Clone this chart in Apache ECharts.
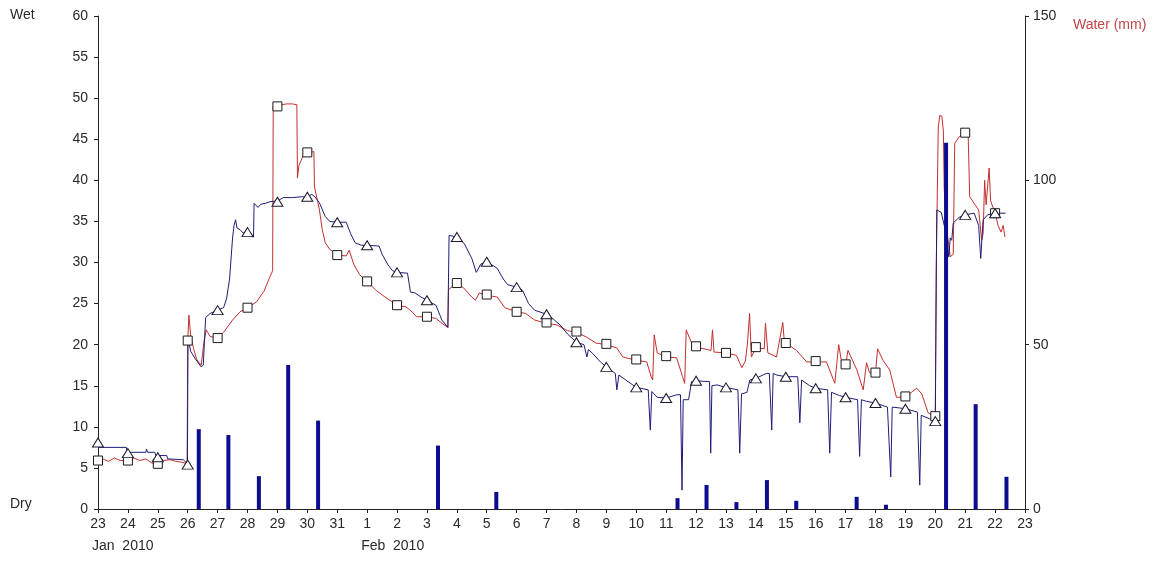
<!DOCTYPE html>
<html>
<head>
<meta charset="utf-8">
<script src="https://cdn.jsdelivr.net/npm/echarts@6/dist/echarts.min.js"></script>
<style>html,body{margin:0;padding:0;background:#fff}#c{width:1157px;height:561px}</style>
</head>
<body>
<div id="c"></div>
<script>
// x values: days since 23 Jan 2010 00:00
const dayLabels = ['23','24','25','26','27','28','29','30','31',
  '1','2','3','4','5','6','7','8','9','10','11','12','13','14','15','16','17','18','19','20','21','22','23'];
const monthLabels = [[0, 'Jan  2010'], [9, 'Feb  2010']];

// red line (squares)
const redLine = [
[0.00,5.9],[0.15,6.1],[0.35,5.8],[0.55,6.2],[0.75,5.9],[1.00,5.9],[1.20,6.2],[1.40,5.9],[1.60,6.1],[1.80,5.6],[2.00,5.5],[2.20,5.9],[2.40,6.0],[2.60,5.8],[2.80,5.7],[2.98,5.5],
[3.00,20.4],[3.04,23.6],[3.10,21.0],[3.20,19.5],[3.30,18.2],[3.45,17.5],[3.55,20.5],[3.62,21.8],[3.75,21.0],[4.00,20.8],[4.20,21.5],[4.50,23.0],[4.75,24.0],[5.00,24.5],[5.30,25.2],[5.55,26.5],[5.72,28.0],[5.84,29.0],
[5.86,49.0],[6.00,49.1],[6.30,49.3],[6.50,49.3],[6.65,49.2],[6.67,40.3],[6.72,41.8],[6.85,42.9],[7.00,43.3],[7.22,43.5],[7.24,39.2],[7.40,36.5],[7.50,34.0],[7.60,32.4],[7.75,31.6],[7.90,31.2],[8.00,30.9],[8.30,30.8],[8.40,31.5],[8.55,29.8],[8.75,28.5],[9.00,27.7],[9.30,26.6],[9.60,25.8],[9.80,25.3],[10.00,24.8],[10.30,24.6],[10.50,24.0],[10.65,23.4],[11.00,23.4],[11.30,23.2],[11.50,22.6],[11.70,22.1],
[11.72,26.7],[12.00,27.5],[12.20,27.0],[12.50,25.8],[12.62,25.4],[12.75,26.3],[13.00,26.0],[13.35,25.8],[13.60,24.5],[14.00,24.0],[14.30,23.8],[14.60,23.0],[15.00,22.6],[15.35,22.4],[15.70,21.7],[16.00,21.5],[16.35,20.9],[16.65,20.2],[17.00,20.0],[17.35,19.6],[17.55,18.5],[18.00,18.1],[18.35,17.9],[18.50,16.1],[18.55,15.7],[18.60,21.2],[18.70,19.0],[19.00,18.5],[19.35,18.4],[19.55,16.1],[19.62,15.3],[19.67,21.8],[19.85,20.2],[20.00,19.7],[20.50,19.3],[20.55,21.8],[20.60,19.1],[21.00,19.0],[21.35,18.7],[21.53,17.2],[21.65,18.0],[21.72,20.2],[21.79,23.8],[21.85,18.5],[22.00,19.6],[22.28,19.5],[22.32,22.6],[22.40,19.0],[22.69,18.5],[22.90,22.7],[22.95,20.5],[23.00,20.2],[23.36,19.3],[23.70,17.9],[24.00,17.9],[24.36,17.9],[24.64,15.3],[24.77,20.0],[24.88,17.6],[25.00,17.5],[25.08,19.3],[25.38,16.9],[25.59,14.5],[25.70,17.8],[25.80,16.6],[26.00,16.5],[26.07,19.5],[26.25,18.1],[26.48,16.9],[26.70,13.6],[27.00,13.6],[27.20,14.2],[27.38,14.7],[27.55,14.0],[27.76,11.7],[28.00,11.2],
[28.03,29.0],[28.10,46.5],[28.15,47.9],[28.22,47.8],[28.27,46.0],[28.30,38.8],[28.40,33.5],[28.50,30.7],[28.60,31.0],[28.65,44.5],[28.80,45.3],[29.00,45.9],[29.10,45.5],[29.15,38.0],[29.45,36.4],[29.55,32.7],[29.60,33.5],[29.65,40.0],[29.70,37.0],[29.80,41.5],[29.85,37.5],[30.00,36.0],[30.10,34.5],[30.20,33.7],[30.27,34.5],[30.33,33.1]
];

// blue line (triangles)
const blueLine = [
[0.00,8.3],[0.02,7.5],[0.95,7.5],[0.97,6.9],[1.60,6.9],[1.62,7.3],[1.66,6.9],[1.90,6.9],[1.93,6.5],[2.30,6.5],[2.33,6.1],[2.85,6.0],[2.99,5.5],
[3.01,20.8],[3.10,19.2],[3.25,18.3],[3.45,17.3],[3.52,17.5],[3.60,23.3],[3.75,23.8],[4.00,24.2],[4.20,24.5],[4.30,25.6],[4.40,28.0],[4.50,33.0],[4.55,34.5],[4.60,35.2],[4.65,34.2],[4.75,34.0],[4.85,33.6],[5.00,33.6],[5.10,33.2],[5.20,33.1],[5.22,37.2],[5.35,36.7],[5.45,37.1],[5.60,37.2],[5.75,37.4],[6.00,37.5],[6.20,37.9],[6.50,37.9],[6.80,38.0],[7.00,38.0],[7.15,38.3],[7.25,38.0],[7.40,37.3],[7.60,35.6],[7.75,35.0],[8.00,34.9],[8.30,34.9],[8.45,33.5],[8.60,32.4],[8.80,32.1],[9.00,32.1],[9.40,32.0],[9.50,31.0],[9.70,29.7],[9.85,29.0],[10.00,28.8],[10.35,28.7],[10.45,26.4],[10.60,26.3],[10.80,25.8],[11.00,25.4],[11.30,24.8],[11.50,23.0],[11.70,22.1],
[11.74,33.3],[12.00,33.1],[12.25,32.3],[12.50,30.5],[12.65,28.8],[12.80,29.8],[13.00,30.1],[13.35,29.3],[13.55,28.0],[13.70,27.3],[14.00,27.0],[14.20,26.6],[14.40,25.0],[14.60,24.2],[15.00,23.7],[15.20,23.2],[15.45,22.4],[15.70,21.3],[16.00,20.3],[16.25,20.0],[16.35,18.5],[16.40,19.4],[16.55,18.9],[16.80,17.9],[17.00,17.3],[17.30,16.5],[17.35,14.5],[17.42,16.3],[17.65,15.7],[18.00,14.8],[18.40,14.5],[18.47,9.6],[18.52,14.3],[18.70,13.6],[19.00,13.5],[19.35,13.9],[19.48,13.9],[19.53,2.3],[19.57,13.3],[19.75,13.3],[19.85,15.5],[20.00,15.6],[20.45,15.5],[20.49,6.8],[20.53,15.0],[20.70,15.1],[21.00,14.8],[21.40,14.5],[21.46,6.8],[21.52,14.0],[21.70,14.2],[21.80,15.7],[22.00,15.9],[22.35,16.5],[22.45,16.5],[22.53,9.6],[22.58,16.5],[22.70,16.3],[23.00,16.1],[23.40,16.1],[23.47,10.5],[23.53,15.7],[23.80,15.0],[24.00,14.7],[24.40,14.5],[24.47,6.8],[24.53,14.2],[24.80,13.8],[25.00,13.6],[25.40,13.3],[25.47,6.4],[25.53,13.3],[25.70,13.1],[26.00,12.9],[26.40,12.4],[26.51,3.9],[26.56,12.4],[26.80,12.3],[27.00,12.2],[27.40,11.8],[27.48,2.9],[27.53,11.4],[27.80,11.0],[28.00,10.7],
[28.05,36.4],[28.20,36.1],[28.30,34.5],[28.40,32.7],[28.45,30.7],[28.50,33.0],[28.55,32.7],[28.60,34.8],[28.80,35.5],[29.00,35.8],[29.30,36.0],[29.45,34.5],[29.52,30.5],[29.60,35.2],[29.75,35.8],[30.00,36.0],[30.35,36.0]
];

// daily marker values (midnight of each day, day 0 = 23 Jan)
const redDaily = [5.9,5.9,5.5,20.5,20.8,24.5,49.0,43.4,30.9,27.7,24.8,23.4,27.5,26.1,24.0,22.7,21.6,20.1,18.2,18.6,19.8,19.0,19.7,20.2,18.0,17.6,16.6,13.7,11.3,45.8,36.0];
const blueDaily = [8.1,6.8,6.3,5.4,24.2,33.7,37.4,38.0,34.9,32.1,28.8,25.4,33.1,30.1,27.0,23.7,20.3,17.3,14.8,13.5,15.6,14.8,15.9,16.1,14.7,13.6,12.9,12.2,10.7,35.8,36.0];

// rainfall bars (mm), right axis
const rainDays = [3.37,4.36,5.38,6.36,7.36,11.37,13.32,19.38,20.35,21.35,22.37,23.35,25.37,26.35,28.36,29.35,30.38];
const rainMm   = [24.3,22.5,10.0,43.8,26.9,19.3,5.2,3.3,7.3,2.1,8.8,2.5,3.7,1.3,111.4,31.9,9.8];

const leftTicks = {min: 0, max: 60, interval: 5};
const rightTicks = {min: 0, max: 150, interval: 50};

const FONT = '"Liberation Sans", Arial, sans-serif';
const TXT = '#2a2a2a';
const RED = '#c4302e';
const BLUE = '#1e1e78';
const BAR = '#0c0c90';

const chart = echarts.init(document.getElementById('c'), null, {renderer: 'canvas'});
const baseOption = {
  animation: false,
  backgroundColor: '#fff',
  grid: {left: 98, right: 132, top: 16, bottom: 52, containLabel: false},
  xAxis: {
    type: 'value', min: 0, max: 31, interval: 1,
    splitLine: {show: false},
    axisLine: {show: true, onZero: false, lineStyle: {color: '#222', width: 1}},
    axisTick: {show: true, inside: false, length: 4, lineStyle: {color: '#222'}},
    axisLabel: {
      margin: 8, color: TXT, fontFamily: FONT, fontSize: 14,
      showMinLabel: true, showMaxLabel: true, hideOverlap: false,
      formatter: function (v) { return dayLabels[v]; }
    }
  },
  yAxis: [
    {
      type: 'value', position: 'left', min: leftTicks.min, max: leftTicks.max, interval: leftTicks.interval,
      splitLine: {show: false},
      axisLine: {show: true, lineStyle: {color: '#222'}},
      axisTick: {show: true, length: 4, lineStyle: {color: '#222'}},
      axisLabel: {margin: 10, color: TXT, fontFamily: FONT, fontSize: 14, showMinLabel: true, showMaxLabel: true}
    },
    {
      type: 'value', position: 'right', min: rightTicks.min, max: rightTicks.max, interval: rightTicks.interval,
      splitLine: {show: false},
      axisLine: {show: true, lineStyle: {color: '#222'}},
      axisTick: {show: true, length: 4, lineStyle: {color: '#222'}},
      axisLabel: {margin: 8, color: TXT, fontFamily: FONT, fontSize: 14, showMinLabel: true, showMaxLabel: true}
    }
  ],
  series: [
    {
      name: 'red', type: 'line', xAxisIndex: 0, yAxisIndex: 0, z: 2,
      data: redLine, showSymbol: false, symbol: 'none',
      lineStyle: {color: RED, width: 1}
    },
    {
      name: 'blue', type: 'line', xAxisIndex: 0, yAxisIndex: 0, z: 2,
      data: blueLine, showSymbol: false, symbol: 'none',
      lineStyle: {color: BLUE, width: 1}
    },
    {
      name: 'rain', type: 'bar', xAxisIndex: 0, yAxisIndex: 1, z: 3,
      data: rainDays.map((d, i) => [d, rainMm[i]]),
      barWidth: 4, itemStyle: {color: BAR}
    },
    {
      name: 'redDaily', type: 'scatter', yAxisIndex: 0, z: 5,
      data: redDaily.map((v, i) => [i, v]),
      symbol: 'rect', symbolSize: 9,
      itemStyle: {color: '#fff', borderColor: '#1a1a1a', borderWidth: 1, opacity: 1}
    },
    {
      name: 'blueDaily', type: 'scatter', yAxisIndex: 0, z: 5,
      data: blueDaily.map((v, i) => [i, v]),
      symbol: 'triangle', symbolSize: [11, 9],
      itemStyle: {color: '#fff', borderColor: '#1a1a2a', borderWidth: 1, opacity: 1}
    }
  ]
};
chart.setOption(baseOption);

// texts: Wet/Dry beside the left axis ends, month names under their first day, axis title on the right
const yTop = chart.convertToPixel({yAxisIndex: 0}, leftTicks.max);
const yBot = chart.convertToPixel({yAxisIndex: 0}, leftTicks.min);
const graphics = [
  {type: 'text', left: 10, top: yTop - 8, style: {text: 'Wet', fill: TXT, font: '14px ' + FONT}},
  {type: 'text', left: 10, top: yBot - 12, style: {text: 'Dry', fill: TXT, font: '14px ' + FONT}},
  {type: 'text', left: 1073, top: yTop + 2, style: {text: 'Water (mm)', fill: '#c04848', font: '14px ' + FONT}}
];
monthLabels.forEach(function (m) {
  const px = chart.convertToPixel({xAxisIndex: 0}, m[0]);
  graphics.push({type: 'text', left: px - 6, top: yBot + 30, style: {text: m[1], fill: TXT, font: '14px ' + FONT}});
});
chart.setOption({graphic: graphics});
</script>
</body>
</html>
